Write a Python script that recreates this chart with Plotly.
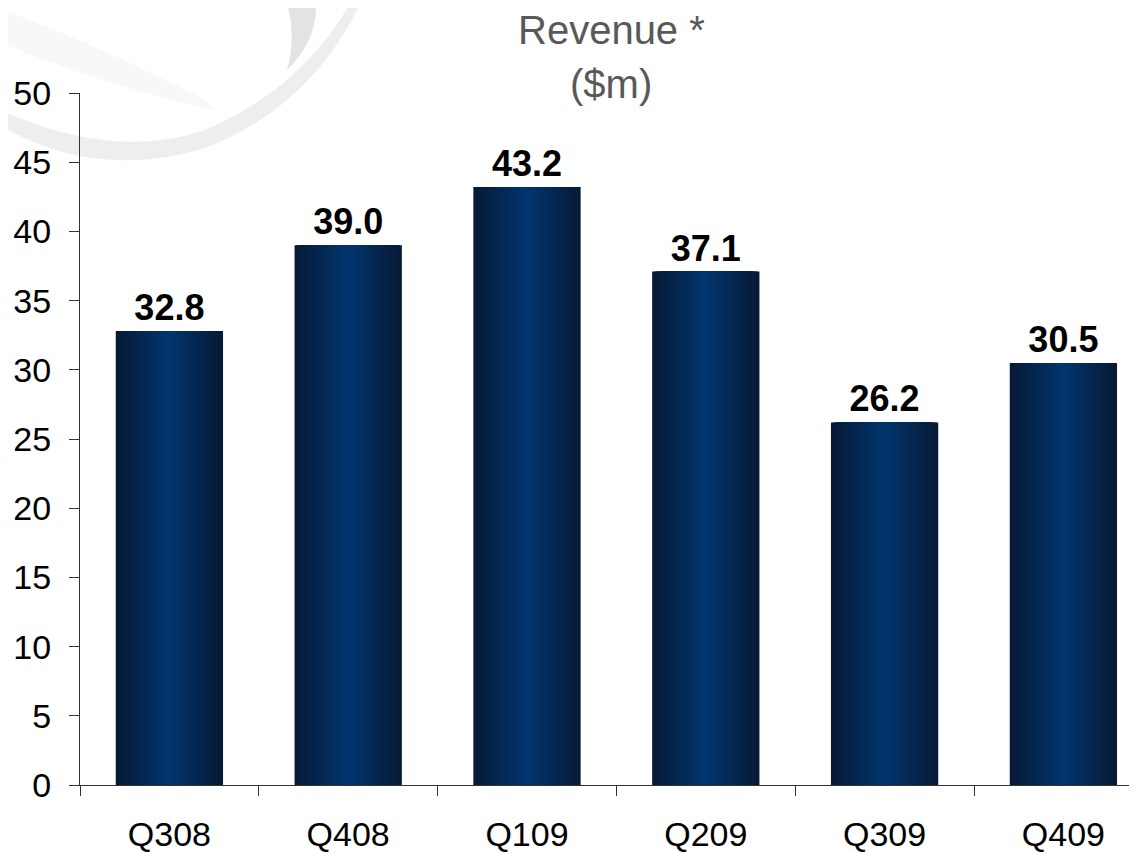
import plotly.graph_objects as go

quarters = ["Q308", "Q408", "Q109", "Q209", "Q309", "Q409"]
revenue = [32.8, 39.0, 43.2, 37.1, 26.2, 30.5]
y_ticks = [0, 5, 10, 15, 20, 25, 30, 35, 40, 45, 50]
title_lines = ["Revenue *", "($m)"]

OFF = 8  # default page body margin
W, H = 1129, 845
ML, MR, MT, MB = 72, 0, 85, 65
PW, PH = W - ML - MR, H - MT - MB
CAT_PX = 178.8

def px2paper(x, y):
    # page pixel coordinates -> paper coordinates (decoration only)
    return (x - OFF - ML) / PW, (H - MB - (y - OFF)) / PH

def path(cmds):
    out = []
    for cmd, pts in cmds:
        coords = []
        for (x, y) in pts:
            px, py = px2paper(x, y)
            coords.append(f"{px:.4f},{py:.4f}")
        out.append(cmd + " " + " ".join(coords))
    return " ".join(out) + " Z"

edge = (7, 26, 54)
center = (2, 53, 110)
N = 27
bar_w = 0.6

fig = go.Figure()
for k in range(N):
    t = k / (N - 1)
    c = tuple(round(edge[i] + (center[i] - edge[i]) * t) for i in range(3))
    w = bar_w * (1 - k / N)
    outer = k == 0
    fig.add_trace(go.Bar(
        x=quarters, y=revenue, width=w,
        marker=dict(color=f"rgb{c}", line=dict(width=0)),
        text=[f"{v:.1f}" for v in revenue] if outer else None,
        textposition="outside" if outer else "none",
        textfont=dict(family="Liberation Sans", size=36, color="black", weight="bold"),
        cliponaxis=False, hoverinfo="skip", showlegend=False,
    ))

# decorative swoosh in background
shapes = [
    dict(type="path", xref="paper", yref="paper", layer="below",
         path=path([("M", [(0, 8)]), ("Q", [(110, 50), (205, 100)]),
                    ("L", [(215, 110)]), ("Q", [(100, 85), (0, 42)])]),
         fillcolor="#f8f8f8", line=dict(width=0)),
    dict(type="path", xref="paper", yref="paper", layer="below",
         path=path([("M", [(0, 110)]), ("Q", [(110, 160), (200, 132)]),
                    ("Q", [(300, 92), (352, 0)]), ("L", [(362, 0)]),
                    ("Q", [(310, 110), (200, 150)]), ("Q", [(90, 180), (0, 125)])]),
         fillcolor="#eeeeee", line=dict(width=0)),
    dict(type="path", xref="paper", yref="paper", layer="below",
         path=path([("M", [(286, 0)]), ("Q", [(297, 35), (287, 70)]),
                    ("Q", [(318, 40), (316, 0)])]),
         fillcolor="#e3e3e3", line=dict(width=0)),
]

annotations = []
for txt, yp in zip(title_lines, [30, 84]):
    ax, ay = px2paper(611, yp)
    annotations.append(dict(text=txt, x=ax, y=ay, xref="paper", yref="paper",
                            xanchor="center", yanchor="middle", showarrow=False,
                            font=dict(family="Liberation Sans", size=40, color="#595959")))

fig.update_layout(
    width=W, height=H,
    margin=dict(l=ML, r=MR, t=MT, b=MB),
    barmode="overlay",
    paper_bgcolor="white", plot_bgcolor="rgba(0,0,0,0)",
    shapes=shapes, annotations=annotations,
    font=dict(family="Liberation Sans", color="black"),
    xaxis=dict(
        type="category", range=[-0.5, -0.5 + PW / CAT_PX],
        showgrid=False, zeroline=False,
        showline=True, linecolor="#333333", linewidth=1,
        ticks="outside", tickson="boundaries", ticklen=10, tickcolor="#333333",
        tickfont=dict(size=34, family="Liberation Sans", color="black"),
        ticklabelstandoff=19,
    ),
    yaxis=dict(
        range=[0, 50], tickvals=y_ticks, showgrid=False, zeroline=False,
        showline=True, linecolor="#333333", linewidth=1,
        ticks="outside", ticklen=10, tickcolor="#333333",
        tickfont=dict(size=34, family="Liberation Sans", color="black"),
        ticklabelstandoff=11,
    ),
)

fig.write_html("out.html")
